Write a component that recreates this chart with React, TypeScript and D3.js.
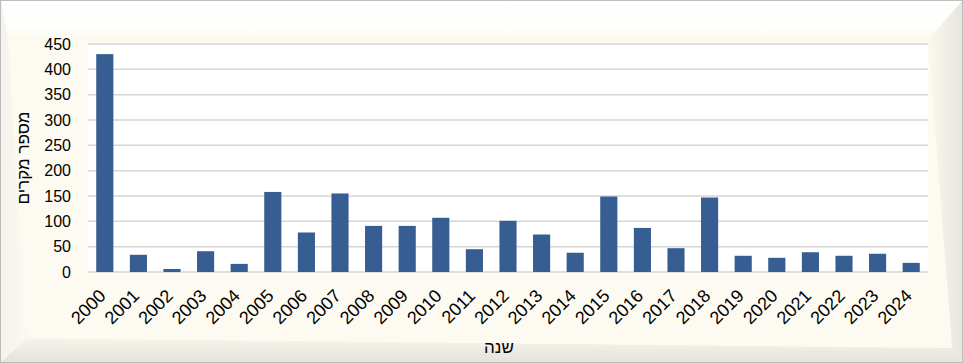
import React from "react";
import * as d3 from "d3";

const years = ["2000","2001","2002","2003","2004","2005","2006","2007","2008","2009","2010","2011","2012","2013","2014","2015","2016","2017","2018","2019","2020","2021","2022","2023","2024"];
const cases = [430, 34, 6, 41, 16, 158, 78, 155, 91, 91, 107, 45, 101, 74, 38, 149, 87, 47, 147, 32, 28, 39, 32, 36, 18];
const yTicks = [0, 50, 100, 150, 200, 250, 300, 350, 400, 450];
const yTitle = "מספר מקרים";
const xTitle = "שנה";

const W = 963, H = 363;
const plot = { left: 88, right: 928, top: 44, bottom: 272 };
const FONT = "'Liberation Sans', Arial, sans-serif";

export default function App() {
  const x = d3.scaleBand<string>().domain(years).range([plot.left, plot.right]).paddingInner(0.49).paddingOuter(0.245);
  const y = d3.scaleLinear().domain([0, 450]).range([plot.bottom, plot.top]);

  return (
    <svg width={W} height={H} style={{ position: "absolute", left: 0, top: 0 }}>
      <defs>
        <linearGradient id="topG" x1="0" y1="0" x2="0" y2="1">
          <stop offset="0" stopColor="#FFFFFF" />
          <stop offset="0.7" stopColor="#FEFEFB" />
          <stop offset="1" stopColor="#FBF8EC" />
        </linearGradient>
        <linearGradient id="rightG" x1="0" y1="0" x2="1" y2="0">
          <stop offset="0" stopColor="#FAF8EF" />
          <stop offset="1" stopColor="#E7E5DD" />
        </linearGradient>
        <linearGradient id="botG" x1="0" y1="0" x2="0" y2="1">
          <stop offset="0" stopColor="#F6F4EB" />
          <stop offset="1" stopColor="#E4E2DA" />
        </linearGradient>
        <linearGradient id="leftG" x1="0" y1="0" x2="1" y2="0">
          <stop offset="0" stopColor="#F3F2EC" />
          <stop offset="1" stopColor="#FBF9F1" />
        </linearGradient>
      </defs>
      {/* frame */}
      <rect x={0.5} y={0.5} width={W - 1} height={H - 1} fill="#FBF9F0" stroke="#BDBDBD" />
      <polygon points={`1,1 ${W - 1},1 928,40 8,40`} fill="url(#topG)" />
      <polygon points={`${W - 1},1 ${W - 1},${H - 1} 952,348 928,40`} fill="url(#rightG)" />
      <polygon points={`1,${H - 1} ${W - 1},${H - 1} 952,348 27,338`} fill="url(#botG)" />
      <polygon points={`1,1 8,40 27,338 1,${H - 1}`} fill="url(#leftG)" />
      <polygon points={`8,40 928,40 952,348 27,338`} fill="#FCFAF1" />
      {/* plot area */}
      <rect x={plot.left} y={plot.top - 1} width={plot.right - plot.left} height={plot.bottom - plot.top + 1} fill="#FFFFFF" />
      {yTicks.map((t) => (
        <line key={t} x1={plot.left} x2={plot.right} y1={y(t)} y2={y(t)} stroke="#D6D6D6" strokeWidth={1.5} />
      ))}
      {years.map((yr, i) => (
        <rect key={yr} x={x(yr)} y={y(cases[i])} width={x.bandwidth()} height={y(0) - y(cases[i])} fill="#375E92" />
      ))}
      {yTicks.map((t) => (
        <text key={t} x={71} y={y(t)} dy="0.35em" textAnchor="end" fontFamily={FONT} fontSize={16} fill="#000">{t}</text>
      ))}
      {years.map((yr) => {
        const cx = (x(yr) as number) + x.bandwidth() / 2 + 2;
        const cy = 297;
        return (
          <text key={yr} transform={`translate(${cx},${cy}) rotate(-45)`} textAnchor="end" fontFamily={FONT} fontSize={18} fill="#000">{yr}</text>
        );
      })}
      <text transform={`translate(23,158) rotate(-90)`} textAnchor="middle" dy="0.35em" fontFamily={FONT} fontSize={17} fill="#000" direction="rtl">{yTitle}</text>
      <text x={499} y={353} textAnchor="middle" fontFamily={FONT} fontSize={17} fill="#000" direction="rtl">{xTitle}</text>
    </svg>
  );
}
